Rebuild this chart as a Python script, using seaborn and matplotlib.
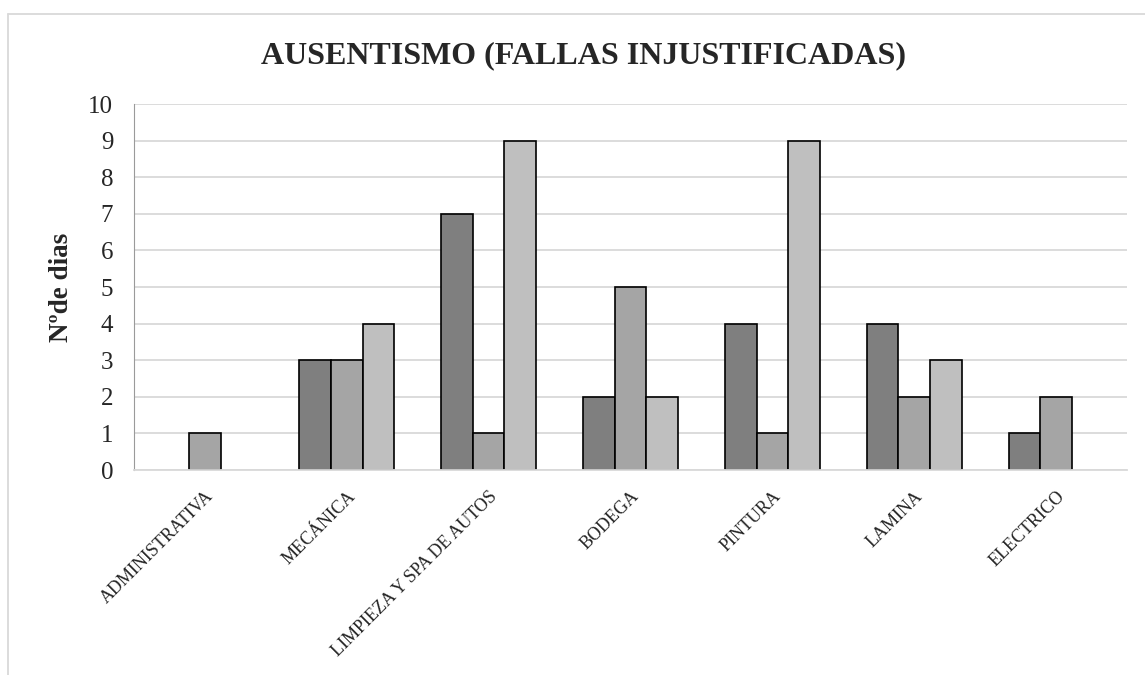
import numpy as np
import pandas as pd
import matplotlib
matplotlib.use("Agg")
import matplotlib.pyplot as plt
import seaborn as sns
from matplotlib.lines import Line2D

# data (blank cells kept as NaN)
areas = ["ADMINISTRATIVA", "MECÁNICA", "LIMPIEZA Y SPA DE AUTOS", "BODEGA",
         "PINTURA", "LAMINA", "ELECTRICO"]
serie_1 = [np.nan, 3, 7, 2, 4, 4, 1]
serie_2 = [1, 3, 1, 5, 1, 2, 2]
serie_3 = [np.nan, 4, 9, 2, 9, 3, np.nan]
series = ["Serie 1", "Serie 2", "Serie 3"]
colores = ["#7f7f7f", "#a5a5a5", "#bfbfbf"]

data = pd.DataFrame({"Area": areas * 3,
                     "Serie": [s for s in series for _ in areas],
                     "Dias": serie_1 + serie_2 + serie_3})
data = data.dropna()

sns.set_style("white")
plt.rcParams["font.family"] = ["Liberation Serif", "DejaVu Serif"]

fig = plt.figure(figsize=(11.45, 6.75), dpi=100)
ax = fig.add_axes([0.117, 0.3037, 0.8673, 0.5422])

sns.barplot(data=data, x="Area", y="Dias", hue="Serie", order=areas,
            hue_order=series, palette=colores, width=0.67, dodge=True,
            edgecolor="black", linewidth=1.2, legend=False, ax=ax)

ax.set_ylim(0, 10)
ax.set_yticks(range(0, 11))
ax.yaxis.grid(True, color="#d9d9d9", linewidth=1.3)
ax.set_axisbelow(True)
for s in ["top", "right"]:
    ax.spines[s].set_visible(False)
ax.spines["left"].set_color("#9a9a9a")
ax.spines["bottom"].set_color("#d9d9d9")
ax.spines["bottom"].set_linewidth(1.3)

ax.tick_params(axis="y", length=0, pad=15, labelsize=18)
ax.tick_params(axis="x", length=0, pad=13)
ax.set_xticks(range(len(areas)))
ax.set_xticklabels(areas, rotation=45, ha="right", va="top",
                   rotation_mode="anchor", fontsize=13)
ax.set_xlabel("")
ax.set_ylabel("Nºde dias", fontsize=19.5, fontweight="bold", labelpad=10)

fig.text(0.51, 0.918, "AUSENTISMO (FALLAS INJUSTIFICADAS)", ha="center",
         va="center", fontsize=23, fontweight="bold")

# chart area border
fig.add_artist(Line2D([8 / 1145, 1], [1 - 14 / 675, 1 - 14 / 675],
                      color="#d9d9d9", linewidth=1.3, transform=fig.transFigure))
fig.add_artist(Line2D([8 / 1145, 8 / 1145], [0, 1 - 14 / 675],
                      color="#d9d9d9", linewidth=1.3, transform=fig.transFigure))

fig.savefig("out.png", dpi=100, facecolor="white")
